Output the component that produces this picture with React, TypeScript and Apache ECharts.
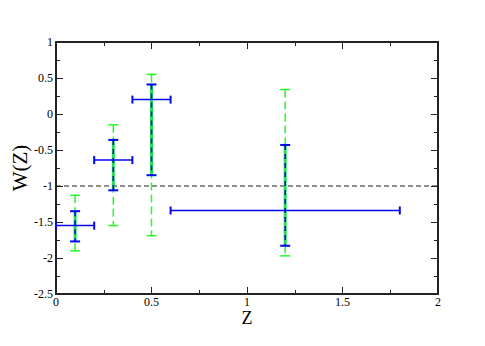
import React, { useEffect, useRef } from "react";
import * as echarts from "echarts";

const zValues = [0.1, 0.3, 0.5, 1.2];
const wValues = [-1.55, -0.64, 0.2, -1.34];
const zLow = [0, 0.2, 0.4, 0.6];
const zHigh = [0.2, 0.4, 0.6, 1.8];
const wBlueLow = [-1.77, -1.06, -0.85, -1.83];
const wBlueHigh = [-1.35, -0.36, 0.41, -0.43];
const wGreenLow = [-1.9, -1.55, -1.69, -1.97];
const wGreenHigh = [-1.13, -0.15, 0.55, 0.34];
const refLineW = -1;
const xTicks = [0, 0.5, 1, 1.5, 2];
const yTicks = [-2.5, -2, -1.5, -1, -0.5, 0, 0.5, 1];

const FONT = "Times New Roman";
const BLUE = "#0505f0";
const GREEN_D = "#22ff22";
const GREEN_S = "#22dd55";
const AX = "#222";

export default function App() {
  const ref = useRef<HTMLDivElement>(null);
  useEffect(() => {
    if (!ref.current) return;
    document.body.style.margin = "0";
    const chart = echarts.init(ref.current, undefined, { renderer: "svg" });
    const data = zValues.map((z, i) => [
      z,
      wValues[i],
      zLow[i],
      zHigh[i],
      wBlueLow[i],
      wBlueHigh[i],
      wGreenLow[i],
      wGreenHigh[i],
    ]);
    const axisCommon = {
      min: 0,
      max: 2,
      interval: 0.5,
      axisLine: { show: true, onZero: false, lineStyle: { color: AX, width: 2 } },
      axisTick: { show: true, inside: true, length: 7, lineStyle: { color: AX, width: 1 } },
      minorTick: { show: true, splitNumber: 2, length: 4, lineStyle: { color: AX, width: 1 } },
      splitLine: { show: false },
    };
    const yCommon = {
      ...axisCommon,
      min: -2.5,
      max: 1,
      interval: 0.5,
    };
    const greenRender = (params: any, api: any) => {
      const x = api.value(0);
      const gl = api.coord([x, api.value(6)]);
      const gh = api.coord([x, api.value(7)]);
      const cw = 5;
      return {
        type: "group",
        children: [
          {
            type: "line",
            shape: { x1: gh[0], y1: gh[1], x2: gl[0], y2: gl[1] },
            style: { stroke: GREEN_D, lineWidth: 1.5, lineDash: [8, 4] },
          },
          {
            type: "line",
            shape: { x1: gh[0] - cw, y1: gh[1], x2: gh[0] + cw, y2: gh[1] },
            style: { stroke: GREEN_D, lineWidth: 1.5 },
          },
          {
            type: "line",
            shape: { x1: gl[0] - cw, y1: gl[1], x2: gl[0] + cw, y2: gl[1] },
            style: { stroke: GREEN_D, lineWidth: 1.5 },
          },
        ],
      };
    };
    const blueRender = (params: any, api: any) => {
      const x = api.value(0);
      const y = api.value(1);
      const bl = api.coord([x, api.value(4)]);
      const bh = api.coord([x, api.value(5)]);
      const hl = api.coord([api.value(2), y]);
      const hh = api.coord([api.value(3), y]);
      const cw = 5;
      const ch = 4;
      return {
        type: "group",
        children: [
          {
            type: "line",
            shape: { x1: bh[0], y1: bh[1], x2: bl[0], y2: bl[1] },
            style: { stroke: GREEN_S, lineWidth: 3 },
          },
          {
            type: "line",
            shape: { x1: bh[0], y1: bh[1], x2: bl[0], y2: bl[1] },
            style: { stroke: BLUE, lineWidth: 1.5, lineDash: [5, 4] },
          },
          {
            type: "line",
            shape: { x1: bh[0] - cw, y1: bh[1], x2: bh[0] + cw, y2: bh[1] },
            style: { stroke: BLUE, lineWidth: 2 },
          },
          {
            type: "line",
            shape: { x1: bl[0] - cw, y1: bl[1], x2: bl[0] + cw, y2: bl[1] },
            style: { stroke: BLUE, lineWidth: 2 },
          },
          {
            type: "line",
            shape: { x1: hl[0], y1: hl[1], x2: hh[0], y2: hh[1] },
            style: { stroke: BLUE, lineWidth: 1.5 },
          },
          {
            type: "line",
            shape: { x1: hl[0], y1: hl[1] - ch, x2: hl[0], y2: hl[1] + ch },
            style: { stroke: BLUE, lineWidth: 2 },
          },
          {
            type: "line",
            shape: { x1: hh[0], y1: hh[1] - ch, x2: hh[0], y2: hh[1] + ch },
            style: { stroke: BLUE, lineWidth: 2 },
          },
        ],
      };
    };
    chart.setOption({
      animation: false,
      backgroundColor: "#fff",
      textStyle: { fontFamily: FONT },
      grid: {
        left: 56,
        right: 47,
        top: 42,
        bottom: 52,
        containLabel: false,
        outerBoundsMode: "none",
      },
      xAxis: [
        {
          type: "value",
          ...axisCommon,
          position: "bottom",
          name: "Z",
          nameLocation: "middle",
          nameGap: 15,
          nameMoveOverlap: false,
          nameTextStyle: {
            fontFamily: FONT,
            fontSize: 18,
            lineHeight: 18,
            color: "#000",
            verticalAlign: "top",
          },
          axisLabel: {
            show: true,
            margin: 2,
            fontFamily: FONT,
            fontSize: 12,
            lineHeight: 12,
            color: "#000",
            formatter: (v: number) => (xTicks.includes(v) ? String(v) : ""),
          },
        },
        {
          type: "value",
          ...axisCommon,
          position: "top",
          axisLabel: { show: false },
        },
      ],
      yAxis: [
        {
          type: "value",
          ...yCommon,
          position: "left",
          name: "W(Z)",
          nameLocation: "middle",
          nameGap: 26,
          nameMoveOverlap: false,
          nameTextStyle: { fontFamily: FONT, fontSize: 21, color: "#000" },
          axisLabel: {
            show: true,
            margin: 3,
            fontFamily: FONT,
            fontSize: 12,
            color: "#000",
            formatter: (v: number) => (yTicks.includes(v) ? String(v) : ""),
          },
        },
        {
          type: "value",
          ...yCommon,
          position: "right",
          axisLabel: { show: false },
        },
      ],
      series: [
        {
          type: "line",
          data: [
            [0, refLineW],
            [2, refLineW],
          ],
          symbol: "none",
          lineStyle: { color: "#222", width: 1.2, type: [5, 3] },
          silent: true,
          z: 1,
        },
        {
          type: "custom",
          renderItem: greenRender,
          data,
          encode: { x: 0, y: 1 },
          z: 2,
          silent: true,
        },
        {
          type: "custom",
          renderItem: blueRender,
          data,
          encode: { x: 0, y: 1 },
          z: 3,
          silent: true,
        },
      ],
    });
    return () => chart.dispose();
  }, []);
  return <div ref={ref} style={{ width: 485, height: 346 }} />;
}
